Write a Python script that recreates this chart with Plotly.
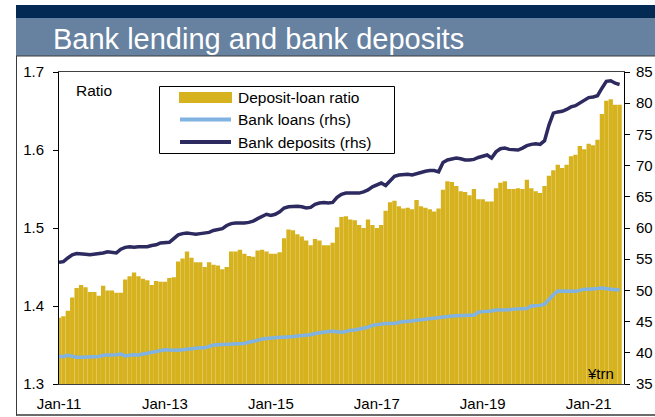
import plotly.graph_objects as go

# Monthly series, Jan-11 .. Aug-21
months = list(range(128))
tick_pos = [0, 24, 48, 72, 96, 120]
tick_text = ["Jan-11", "Jan-13", "Jan-15", "Jan-17", "Jan-19", "Jan-21"]

deposit_loan_ratio = [
    1.385, 1.387, 1.394, 1.411, 1.423, 1.427, 1.424, 1.418, 1.418, 1.413, 1.426, 1.420,
    1.420, 1.417, 1.417, 1.434, 1.438, 1.443, 1.438, 1.435, 1.433, 1.427, 1.432, 1.431,
    1.431, 1.436, 1.437, 1.457, 1.461, 1.470, 1.462, 1.456, 1.456, 1.450, 1.456, 1.453,
    1.452, 1.447, 1.450, 1.470, 1.470, 1.472, 1.467, 1.464, 1.463, 1.471, 1.472, 1.470,
    1.467, 1.467, 1.469, 1.487, 1.498, 1.497, 1.492, 1.489, 1.484, 1.478, 1.486, 1.484,
    1.478, 1.478, 1.481, 1.501, 1.514, 1.515, 1.511, 1.510, 1.504, 1.500, 1.511, 1.504,
    1.500, 1.504, 1.522, 1.533, 1.535, 1.528, 1.525, 1.526, 1.524, 1.536, 1.528, 1.526,
    1.524, 1.521, 1.525, 1.549, 1.560, 1.559, 1.554, 1.547, 1.546, 1.542, 1.550, 1.537,
    1.537, 1.534, 1.534, 1.551, 1.558, 1.560, 1.550, 1.550, 1.551, 1.550, 1.562, 1.551,
    1.547, 1.545, 1.554, 1.567, 1.574, 1.581, 1.577, 1.581, 1.592, 1.594, 1.605, 1.601,
    1.608, 1.606, 1.613, 1.646, 1.663, 1.665, 1.658, 1.658,
]

bank_loans = [
    39.4, 39.4, 39.6, 39.4, 39.3, 39.3, 39.3, 39.3, 39.4, 39.4, 39.6, 39.6,
    39.6, 39.7, 39.8, 39.5, 39.6, 39.7, 39.65, 39.8, 39.9, 40.0, 40.2, 40.3,
    40.5, 40.45, 40.4, 40.4, 40.5, 40.6, 40.7, 40.7, 40.8, 40.8, 41.0, 41.25,
    41.3, 41.35, 41.4, 41.4, 41.45, 41.5, 41.5, 41.7, 41.8, 42.0, 42.2, 42.3,
    42.4, 42.5, 42.5, 42.5, 42.5, 42.6, 42.7, 42.75, 42.8, 42.9, 43.1, 43.2,
    43.4, 43.4, 43.45, 43.4, 43.3, 43.4, 43.6, 43.65, 43.8, 43.9, 44.1, 44.4,
    44.5, 44.7, 44.7, 44.7, 44.7, 44.85, 45.0, 45.0, 45.05, 45.2, 45.3, 45.4,
    45.5, 45.5, 45.6, 45.7, 45.8, 45.9, 45.95, 46.0, 46.0, 46.0, 46.0, 46.5,
    46.6, 46.6, 46.7, 46.85, 46.85, 46.85, 46.9, 47.0, 47.0, 47.0, 47.1, 47.5,
    47.55, 47.6, 47.8, 48.6, 49.3, 49.9, 49.9, 49.9, 49.9, 49.85, 50.0, 50.2,
    50.2, 50.2, 50.3, 50.4, 50.25, 50.2, 50.1, 50.1,
]

bank_deposits = [
    54.5, 54.6, 55.2, 55.7, 55.9, 55.9, 55.8, 55.7, 55.8, 55.8, 56.0, 56.2,
    56.1, 56.0, 56.6, 56.9, 57.0, 56.9, 57.0, 57.0, 57.0, 57.2, 57.3, 57.6,
    57.6, 57.7, 58.3, 58.9, 59.1, 59.2, 59.1, 59.0, 59.1, 59.2, 59.3, 59.6,
    59.7, 59.9, 60.4, 60.7, 60.8, 60.75, 60.8, 60.9, 61.1, 61.5, 61.9, 62.2,
    62.0, 62.2, 62.6, 63.2, 63.4, 63.5, 63.5, 63.4, 63.2, 63.3, 63.8, 64.0,
    64.1, 64.0, 64.1, 64.9, 65.4, 65.6, 65.6, 65.6, 65.6, 65.8, 66.1, 66.6,
    66.9, 67.2, 66.8, 67.5, 68.3, 68.5, 68.6, 68.6, 68.5, 68.7, 69.0, 69.1,
    69.2, 69.2, 69.0, 70.5, 70.9, 71.0, 71.2, 71.1, 70.9, 70.9, 71.0, 71.3,
    71.5, 71.7, 71.2, 72.2, 72.7, 72.8, 72.6, 72.5, 72.5, 72.8, 73.2, 73.4,
    73.5, 73.4, 74.0, 76.5, 78.4, 78.6, 78.7, 79.0, 79.4, 79.6, 80.0, 80.4,
    80.9, 81.0, 81.2, 82.4, 83.5, 83.6, 83.2, 83.0,
]

GOLD = "#D6B21F"
LIGHT_BLUE = "#80B2E2"
NAVY = "#2D2A60"
FONT = "Liberation Sans, Arial, sans-serif"

# Page geometry (pixels) used to place decorations in paper coordinates
W, H = 655, 417
L, R, T, B = 59, 624, 72, 384


def px(x):
    return (x - L) / (R - L)


def py(y):
    return (B - y) / (B - T)


fig = go.Figure()
fig.add_trace(go.Bar(x=months, y=deposit_loan_ratio, marker=dict(color=GOLD, line=dict(width=0)),
                     name="Deposit-loan ratio"))
fig.add_trace(go.Scatter(x=months, y=bank_loans, yaxis="y2", mode="lines",
                         line=dict(color=LIGHT_BLUE, width=3.5), name="Bank loans (rhs)"))
fig.add_trace(go.Scatter(x=months, y=bank_deposits, yaxis="y2", mode="lines",
                         line=dict(color=NAVY, width=3.5), name="Bank deposits (rhs)"))

shapes = [
    # header strips
    dict(type="rect", xref="paper", yref="paper", x0=px(16), x1=px(656), y0=py(18), y1=py(5),
         fillcolor="#032A52", line=dict(width=0), layer="above"),
    dict(type="rect", xref="paper", yref="paper", x0=px(16), x1=px(656), y0=py(56), y1=py(18),
         fillcolor="#6782A1", line=dict(width=0), layer="above"),
    # outer frame
    dict(type="line", xref="paper", yref="paper", x0=px(16), x1=px(656), y0=py(56), y1=py(56),
         line=dict(color="#3a3a3a", width=1)),
    dict(type="line", xref="paper", yref="paper", x0=px(16.5), x1=px(16.5), y0=py(56), y1=py(415.5),
         line=dict(color="#3a3a3a", width=1)),
    dict(type="line", xref="paper", yref="paper", x0=px(16), x1=px(656), y0=py(415), y1=py(415),
         line=dict(color="#3a3a3a", width=1.5)),
    # legend box and keys
    dict(type="rect", xref="paper", yref="paper", x0=px(159.5), x1=px(394.5), y0=py(153.5), y1=py(86.5),
         fillcolor="white", line=dict(color="black", width=1), layer="above"),
    dict(type="rect", xref="paper", yref="paper", x0=px(179), x1=px(232), y0=py(103), y1=py(92),
         fillcolor=GOLD, line=dict(width=0), layer="above"),
    dict(type="line", xref="paper", yref="paper", x0=px(180), x1=px(231), y0=py(119.5), y1=py(119.5),
         line=dict(color=LIGHT_BLUE, width=4), layer="above"),
    dict(type="line", xref="paper", yref="paper", x0=px(180), x1=px(231), y0=py(142), y1=py(142),
         line=dict(color=NAVY, width=4), layer="above"),
]

annotations = [
    dict(text="Bank lending and bank deposits", xref="paper", yref="paper", x=px(51), y=py(39),
         xanchor="left", yanchor="middle", showarrow=False,
         font=dict(family=FONT, size=29, color="white")),
    dict(text="Ratio", xref="paper", yref="paper", x=px(74), y=py(90),
         xanchor="left", yanchor="middle", showarrow=False, font=dict(family=FONT, size=15.5, color="black")),
    dict(text="¥trn", xref="paper", yref="paper", x=px(616), y=py(373),
         xanchor="right", yanchor="middle", showarrow=False, font=dict(family=FONT, size=15, color="black")),
]
legend_rows = [("Deposit-loan ratio", 97), ("Bank loans (rhs)", 119.5), ("Bank deposits (rhs)", 142)]
for label, yy in legend_rows:
    annotations.append(dict(text=label, xref="paper", yref="paper", x=px(236), y=py(yy),
                            xanchor="left", yanchor="middle", showarrow=False,
                            font=dict(family=FONT, size=15.5, color="black")))

fig.update_layout(
    width=W, height=H,
    margin=dict(l=L, r=W - R, t=T, b=H - B, pad=0),
    paper_bgcolor="white", plot_bgcolor="white",
    showlegend=False, bargap=0.015,
    font=dict(family=FONT, size=15, color="black"),
    xaxis=dict(range=[0, 128], tickvals=tick_pos, ticktext=tick_text, ticks="",
               showgrid=False, zeroline=False, showline=True, mirror=True,
               linecolor="#404040", linewidth=1, tickfont=dict(size=15),
               ticklabelstandoff=6, automargin=False),
    yaxis=dict(range=[1.3, 1.7], dtick=0.1, tickformat=".1f", ticks="outside", ticklen=5,
               tickcolor="black", showgrid=False, zeroline=False, showline=True,
               linecolor="black", linewidth=1, tickfont=dict(size=15),
               ticklabelstandoff=6, automargin=False),
    yaxis2=dict(range=[35, 85], dtick=5, overlaying="y", side="right", ticks="outside", ticklen=5,
                tickcolor="black", showgrid=False, zeroline=False, showline=True,
                linecolor="black", linewidth=1, tickfont=dict(size=15),
                ticklabelstandoff=3, automargin=False),
    shapes=shapes,
    annotations=annotations,
)

fig.write_html("out.html")
